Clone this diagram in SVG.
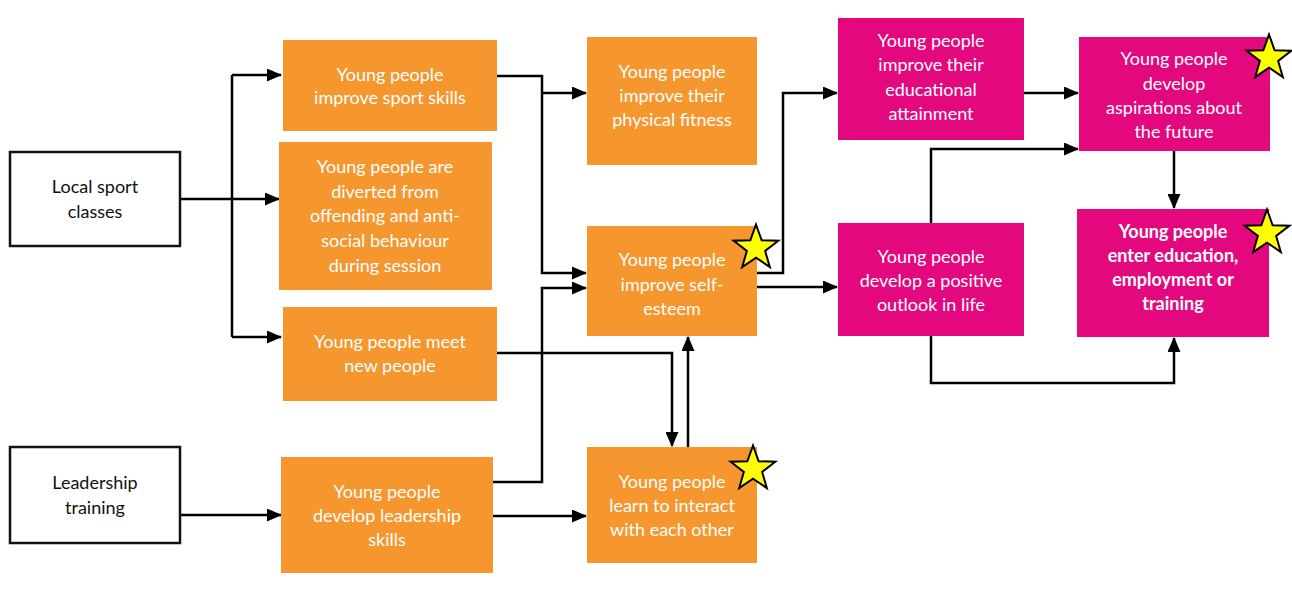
<svg xmlns="http://www.w3.org/2000/svg" width="1292" height="589" viewBox="0 0 1292 589">
<style>
.or{fill:#F6962E}
.pk{fill:#E4087F}
.wb{fill:#fff;stroke:#111;stroke-width:2.5}
.t{font-family:Lato,"Open Sans","Liberation Sans",sans-serif;font-size:18px;text-anchor:middle;fill:#fff}
.tb{font-weight:bold}
.tk{fill:#111}
.c{fill:none;stroke:#000;stroke-width:2.5}
.star{fill:#FFFF00;stroke:#000;stroke-width:2;stroke-linejoin:miter}
</style>
<defs>
<marker id="ah" markerUnits="userSpaceOnUse" markerWidth="15" markerHeight="13" refX="14" refY="6.5" orient="auto">
<path d="M0,0 L15,6.5 L0,13 Z" fill="#000"/>
</marker>
<polygon id="st" points="0,-23.5 5.65,-7.78 22.35,-7.26 9.14,2.97 13.81,19.01 0,9.6 -13.81,19.01 -9.14,2.97 -22.35,-7.26 -5.65,-7.78"/>
</defs>
<rect width="1292" height="589" fill="#fff"/>
<g id="connectors">
<path class="c" d="M180,199 H232"/>
<path class="c" d="M232,75 V337"/>
<path class="c" d="M232,75 H281" marker-end="url(#ah)"/>
<path class="c" d="M232,199 H279" marker-end="url(#ah)"/>
<path class="c" d="M232,337 H281" marker-end="url(#ah)"/>
<path class="c" d="M180,515 H281" marker-end="url(#ah)"/>
<path class="c" d="M497,76 H542 V273 H586" marker-end="url(#ah)"/>
<path class="c" d="M542,93 H586" marker-end="url(#ah)"/>
<path class="c" d="M493,482 H542 V288 H586" marker-end="url(#ah)"/>
<path class="c" d="M493,516 H586" marker-end="url(#ah)"/>
<path class="c" d="M497,353 H672 V446" marker-end="url(#ah)"/>
<path class="c" d="M688,447 V337" marker-end="url(#ah)"/>
<path class="c" d="M757,273 H783 V93 H837" marker-end="url(#ah)"/>
<path class="c" d="M757,287 H837" marker-end="url(#ah)"/>
<path class="c" d="M1024,93 H1078" marker-end="url(#ah)"/>
<path class="c" d="M931,223 V149 H1078" marker-end="url(#ah)"/>
<path class="c" d="M1174,151 V208" marker-end="url(#ah)"/>
<path class="c" d="M931,336 V383 H1174 V338" marker-end="url(#ah)"/>
</g>
<g id="local-sport-classes">
<rect class="wb" x="10" y="152" width="170" height="94"/>
<text class="t tk" x="95" y="193">Local sport</text>
<text class="t tk" x="95" y="218">classes</text>
</g>
<g id="leadership-training">
<rect class="wb" x="10" y="447" width="170" height="96"/>
<text class="t tk" x="95" y="489">Leadership</text>
<text class="t tk" x="95" y="514">training</text>
</g>
<g id="sport-skills">
<rect class="or" x="283" y="40" width="214" height="91"/>
<text class="t" x="390" y="81">Young people</text>
<text class="t" x="390" y="104">improve sport skills</text>
</g>
<g id="diverted">
<rect class="or" x="279" y="142" width="213" height="148"/>
<text class="t" x="385" y="173">Young people are</text>
<text class="t" x="385" y="198">diverted from</text>
<text class="t" x="385" y="222">offending and anti-</text>
<text class="t" x="385" y="247">social behaviour</text>
<text class="t" x="385" y="272">during session</text>
</g>
<g id="meet-new-people">
<rect class="or" x="283" y="307" width="214" height="94"/>
<text class="t" x="390" y="348">Young people meet</text>
<text class="t" x="390" y="372">new people</text>
</g>
<g id="leadership-skills">
<rect class="or" x="281" y="457" width="212" height="116"/>
<text class="t" x="387" y="498">Young people</text>
<text class="t" x="387" y="522">develop leadership</text>
<text class="t" x="387" y="546">skills</text>
</g>
<g id="physical-fitness">
<rect class="or" x="587" y="37" width="170" height="128"/>
<text class="t" x="672" y="78">Young people</text>
<text class="t" x="672" y="102">improve their</text>
<text class="t" x="672" y="126">physical fitness</text>
</g>
<g id="self-esteem">
<rect class="or" x="587" y="226" width="170" height="110"/>
<text class="t" x="672" y="266">Young people</text>
<text class="t" x="672" y="291">improve self-</text>
<text class="t" x="672" y="315">esteem</text>
<use href="#st" class="star" transform="translate(756,248)"/>
</g>
<g id="interact">
<rect class="or" x="587" y="447" width="170" height="116"/>
<text class="t" x="672" y="488">Young people</text>
<text class="t" x="672" y="512">learn to interact</text>
<text class="t" x="672" y="536">with each other</text>
<use href="#st" class="star" transform="translate(753,469)"/>
</g>
<g id="educational-attainment">
<rect class="pk" x="838" y="18" width="186" height="122"/>
<text class="t" x="931" y="47">Young people</text>
<text class="t" x="931" y="71">improve their</text>
<text class="t" x="931" y="96">educational</text>
<text class="t" x="931" y="120">attainment</text>
</g>
<g id="aspirations">
<rect class="pk" x="1079" y="37" width="191" height="114"/>
<text class="t" x="1174" y="65">Young people</text>
<text class="t" x="1174" y="90">develop</text>
<text class="t" x="1174" y="114">aspirations about</text>
<text class="t" x="1174" y="138">the future</text>
<use href="#st" class="star" transform="translate(1269,58)"/>
</g>
<g id="positive-outlook">
<rect class="pk" x="838" y="223" width="186" height="113"/>
<text class="t" x="931" y="263">Young people</text>
<text class="t" x="931" y="287">develop a positive</text>
<text class="t" x="931" y="311">outlook in life</text>
</g>
<g id="enter-education">
<rect class="pk" x="1077" y="209" width="192" height="128"/>
<text class="t tb" x="1173" y="238">Young people</text>
<text class="t tb" x="1173" y="262">enter education,</text>
<text class="t tb" x="1173" y="286">employment or</text>
<text class="t tb" x="1173" y="310">training</text>
<use href="#st" class="star" transform="translate(1267,233)"/>
</g>
</svg>
